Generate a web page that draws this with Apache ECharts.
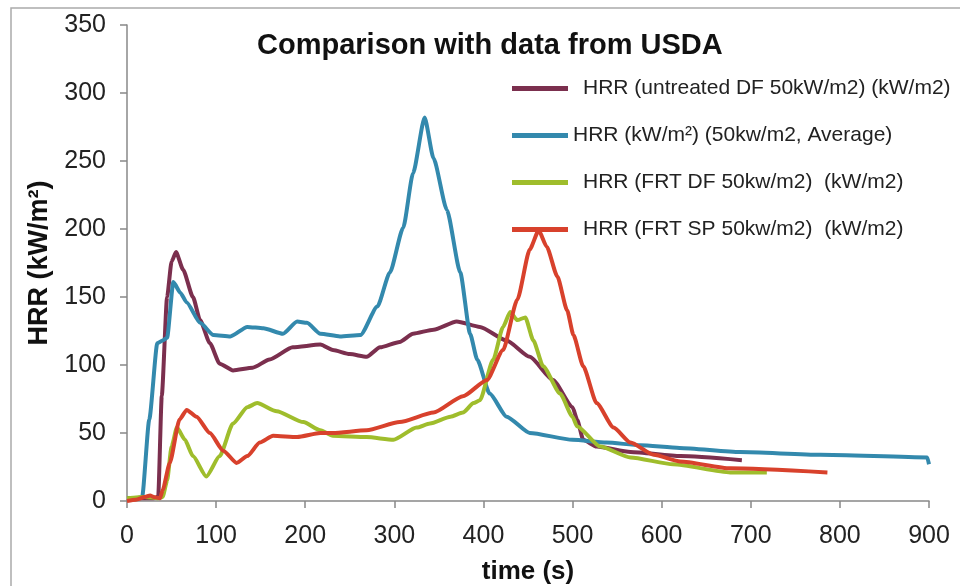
<!DOCTYPE html>
<html>
<head>
<meta charset="utf-8">
<title>HRR comparison</title>
<script src="https://cdn.jsdelivr.net/npm/echarts@6.0.0/dist/echarts.min.js"></script>
<style>
  html, body { margin: 0; padding: 0; background: #fff; }
  #main { width: 960px; height: 586px; }
</style>
</head>
<body>
<div id="main"></div>
<script>
// series names (legend text)
var names = [
  'HRR (untreated DF 50kW/m2) (kW/m2)',
  'HRR (kW/m\u00b2) (50kw/m2, Average)',
  'HRR (FRT DF 50kw/m2)  (kW/m2)',
  'HRR (FRT SP 50kw/m2)  (kW/m2)'
];

// untreated DF
var dfTime = [0, 10, 20, 30, 35, 39, 45, 50, 55, 63, 74, 82, 93, 104, 119, 141, 160, 186, 217, 231, 250, 269, 284, 306, 321, 344, 370, 396, 426, 452, 478, 500, 505, 512, 527, 565, 621, 690];
var dfHrr  = [2, 2, 2, 2, 3, 77, 150, 176, 183, 170, 150, 133, 116, 101, 96, 98, 104, 113, 115, 111, 108, 106, 113, 117, 123, 126, 132, 128, 118, 106, 89, 69, 60, 45, 40, 36, 33, 30];

// average
var avgTime = [0, 10, 17, 25, 34, 40, 45, 52, 60, 67, 82, 97, 116, 135, 153, 175, 191, 202, 217, 239, 262, 281, 295, 310, 321, 334, 344, 359, 374, 385, 393, 407, 426, 452, 500, 538, 576, 620, 688, 778, 898, 900];
var avgHrr  = [2, 2, 3, 60, 116, 118, 120, 161, 153, 146, 131, 122, 121, 128, 127, 123, 132, 131, 123, 121, 122, 143, 168, 201, 241, 282, 252, 214, 168, 123, 104, 79, 62, 50, 45, 43, 41, 39, 36, 34, 32, 27];

// FRT DF
var frtDfTime = [0, 20, 35, 40, 45, 50, 56, 65, 74, 89, 104, 119, 135, 146, 168, 198, 217, 231, 269, 299, 325, 340, 363, 377, 389, 396, 411, 422, 430, 438, 447, 456, 467, 486, 500, 505, 531, 565, 613, 677, 718];
var frtDfHrr  = [2, 3, 2, 3, 15, 40, 54, 45, 33, 18, 33, 57, 69, 72, 66, 58, 52, 48, 47, 45, 54, 57, 62, 65, 72, 74, 104, 128, 139, 133, 135, 118, 99, 79, 62, 55, 40, 32, 27, 21, 21];

// FRT SP
var frtSpTime = [0, 10, 20, 26, 30, 37, 40, 48, 59, 67, 78, 93, 108, 123, 135, 149, 164, 191, 217, 231, 269, 306, 344, 377, 404, 422, 438, 452, 462, 471, 483, 494, 501, 512, 527, 546, 565, 591, 621, 677, 786];
var frtSpHrr  = [0, 1, 3, 4, 3, 2, 8, 28, 60, 67, 62, 50, 37, 28, 33, 43, 48, 47, 50, 50, 52, 58, 65, 77, 89, 111, 148, 185, 199, 187, 165, 140, 122, 99, 72, 54, 43, 34, 29, 24, 21];

var xTicks = [0, 100, 200, 300, 400, 500, 600, 700, 800, 900];
var yTicks = [0, 50, 100, 150, 200, 250, 300, 350];

var colors = ['#7b2f4e', '#3389ad', '#9fbd2c', '#d8412c'];

function pairs(t, v) {
  var out = [];
  for (var i = 0; i < t.length; i++) out.push([t[i], v[i]]);
  return out;
}

var seriesData = [
  pairs(dfTime, dfHrr),
  pairs(avgTime, avgHrr),
  pairs(frtDfTime, frtDfHrr),
  pairs(frtSpTime, frtSpHrr)
];

window.onload = function () {
  var myChart = echarts.init(document.getElementById('main'));
  var font = 'Liberation Sans, Arial, sans-serif';

  var series = [];
  for (var i = 0; i < names.length; i++) {
    series.push({
      name: names[i],
      type: 'line',
      data: seriesData[i],
      showSymbol: false,
      smooth: 0.2,
      smoothMonotone: 'x',
      lineStyle: { width: 4, color: colors[i] },
      itemStyle: { color: colors[i] }
    });
  }

  var option = {
    animation: false,
    backgroundColor: '#fff',
    color: colors,
    title: {
      text: 'Comparison with data from USDA',
      left: 252,
      top: 26,
      textStyle: { fontFamily: font, fontSize: 29, fontWeight: 'bold', color: '#111' }
    },
    legend: {
      orient: 'vertical',
      left: 507,
      top: 73,
      itemWidth: 56,
      itemHeight: 5,
      itemGap: 26,
      icon: 'rect',
      textStyle: { fontFamily: font, fontSize: 21, color: '#222' },
      data: [
        { name: names[0], textStyle: { padding: [0, 0, 0, 10] } },
        { name: names[1], textStyle: { padding: [0, 0, 0, 0] } },
        { name: names[2], textStyle: { padding: [0, 0, 0, 10] } },
        { name: names[3], textStyle: { padding: [0, 0, 0, 10] } }
      ]
    },
    grid: { left: 127, right: 31, top: 25, bottom: 85, outerBoundsMode: 'none' },
    xAxis: {
      type: 'value',
      min: xTicks[0],
      max: xTicks[xTicks.length - 1],
      interval: 100,
      name: 'time (s)',
      nameLocation: 'middle',
      nameGap: 58,
      nameTextStyle: { fontFamily: font, fontSize: 26, fontWeight: 'bold', color: '#111' },
      splitLine: { show: false },
      axisLine: { lineStyle: { color: '#888', width: 1.5 } },
      axisTick: { show: true, length: 7, lineStyle: { color: '#888', width: 1.5 } },
      axisLabel: { margin: 23, fontFamily: font, fontSize: 25, color: '#222' }
    },
    yAxis: {
      type: 'value',
      min: yTicks[0],
      max: yTicks[yTicks.length - 1],
      interval: 50,
      name: 'HRR (kW/m\u00b2)',
      nameLocation: 'middle',
      nameGap: 70,
      nameTextStyle: { fontFamily: font, fontSize: 27, fontWeight: 'bold', color: '#111' },
      splitLine: { show: false },
      axisLine: { show: true, lineStyle: { color: '#888', width: 1.5 } },
      axisTick: { show: true, length: 7, lineStyle: { color: '#888', width: 1.5 } },
      axisLabel: { margin: 21, fontFamily: font, fontSize: 25, color: '#222' }
    },
    graphic: [{
      type: 'rect',
      shape: { x: 11, y: 8, width: 960, height: 590 },
      style: { fill: 'none', stroke: '#aaa', lineWidth: 1.5 },
      silent: true
    }],
    series: series
  };

  myChart.setOption(option);
};
</script>
</body>
</html>
